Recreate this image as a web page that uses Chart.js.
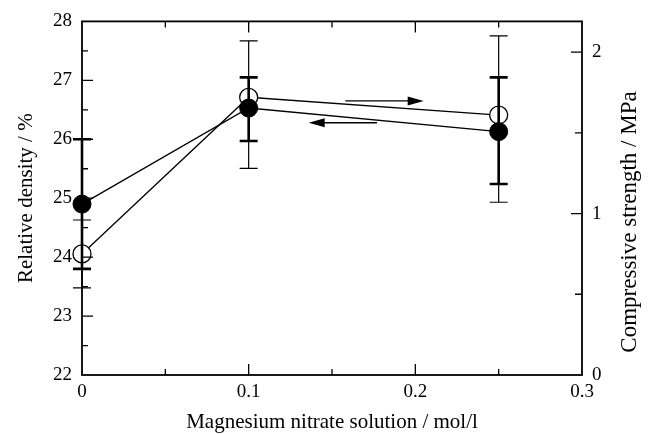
<!DOCTYPE html>
<html>
<head>
<meta charset="utf-8">
<script src="https://cdn.jsdelivr.net/npm/chart.js@4"></script>
<style>
    html, body { margin: 0; padding: 0; background: #fff; }
    #box { width: 658px; height: 434px; }
</style>
</head>
<body>
<div id="box"><canvas id="grafico" width="658" height="434"></canvas></div>
<script>
// Magnesium nitrate concentration (mol/l)
const concentration = [0, 0.1, 0.25];

// relative density (%), left axis - filled circles
const densityMean = [24.9, 26.53, 26.13];
const densityHigh = [26.0, 27.05, 27.05];
const densityLow = [23.8, 25.97, 25.24];

// compressive strength (MPa), right axis - open circles
const strengthMean = [0.75, 1.72, 1.61];
const strengthHigh = [0.96, 2.07, 2.10];
const strengthLow = [0.54, 1.28, 1.07];

const xTicks = [0, 0.1, 0.2, 0.3];
const densityTicks = [22, 23, 24, 25, 26, 27, 28];
const strengthTicks = [0, 1, 2];

const serif = "'Liberation Serif', 'DejaVu Serif', serif";
const rightTitle = 'Compressive strength / MPa';

function toPoints(xs, ys) {
    return xs.map((x, i) => ({ x: x, y: ys[i] }));
}

// frame, inward ticks, error bars, arrows and the right title
const extras = {
    id: 'extras',
    afterDatasetsDraw(chart) {
        const ctx = chart.ctx;
        const area = chart.chartArea;
        const sx = chart.scales.x;
        const sl = chart.scales.yDensity;
        const sr = chart.scales.yStrength;
        ctx.save();
        ctx.strokeStyle = '#000';
        ctx.fillStyle = '#000';

        // error bars
        function bars(lo, hi, axis, width) {
            ctx.lineWidth = width;
            ctx.beginPath();
            for (let i = 0; i < concentration.length; i++) {
                const px = sx.getPixelForValue(concentration[i]);
                const top = axis.getPixelForValue(hi[i]);
                const bot = axis.getPixelForValue(lo[i]);
                ctx.moveTo(px, top); ctx.lineTo(px, bot);
                ctx.moveTo(px - 9, top); ctx.lineTo(px + 9, top);
                ctx.moveTo(px - 9, bot); ctx.lineTo(px + 9, bot);
            }
            ctx.stroke();
        }
        bars(strengthLow, strengthHigh, sr, 1.2);
        bars(densityLow, densityHigh, sl, 2.6);

        // frame
        ctx.lineWidth = 1.8;
        ctx.strokeRect(area.left, area.top, area.right - area.left, area.bottom - area.top);

        // ticks pointing inward
        ctx.lineWidth = 1.3;
        ctx.beginPath();
        for (let v = 0.05; v < 0.3; v += 0.05) {
            const px = sx.getPixelForValue(v);
            const len = Math.abs(v * 10 - Math.round(v * 10)) < 0.01 ? 11 : 6;
            ctx.moveTo(px, area.bottom); ctx.lineTo(px, area.bottom - len);
            ctx.moveTo(px, area.top); ctx.lineTo(px, area.top + len);
        }
        for (let v = 22.5; v < 28; v += 0.5) {
            const py = sl.getPixelForValue(v);
            const len = Number.isInteger(v) ? 11 : 6;
            ctx.moveTo(area.left, py); ctx.lineTo(area.left + len, py);
        }
        for (let v = 0.5; v < sr.max; v += 0.5) {
            const py = sr.getPixelForValue(v);
            const len = Number.isInteger(v) ? 11 : 7;
            ctx.moveTo(area.right, py); ctx.lineTo(area.right - len, py);
        }
        ctx.stroke();

        // arrows: open circles -> right axis, filled circles -> left axis
        function arrow(x1, x2, y) {
            const a = sx.getPixelForValue(x1);
            const b = sx.getPixelForValue(x2);
            const py = sl.getPixelForValue(y);
            const dir = Math.sign(b - a);
            ctx.lineWidth = 1.3;
            ctx.beginPath();
            ctx.moveTo(a, py); ctx.lineTo(b - dir * 10, py);
            ctx.stroke();
            ctx.beginPath();
            ctx.moveTo(b, py);
            ctx.lineTo(b - dir * 16, py - 4.5);
            ctx.lineTo(b - dir * 16, py + 4.5);
            ctx.closePath();
            ctx.fill();
        }
        arrow(0.158, 0.205, 26.65);
        arrow(0.177, 0.136, 26.28);

        // right axis title, reading upward like the left one
        ctx.translate(630, 222);
        ctx.rotate(-Math.PI / 2);
        ctx.font = '23px ' + serif;
        ctx.textAlign = 'center';
        ctx.textBaseline = 'middle';
        ctx.fillText(rightTitle, 0, 0);

        ctx.restore();
    }
};

const ctx = document.getElementById('grafico').getContext('2d');
new Chart(ctx, {
    type: 'scatter',
    data: {
        datasets: [
            {
                label: 'Relative density',
                data: toPoints(concentration, densityMean),
                yAxisID: 'yDensity',
                showLine: true,
                clip: false,
                borderColor: '#000',
                borderWidth: 1.3,
                pointRadius: 9,
                pointBackgroundColor: '#000',
                pointBorderColor: '#000',
                pointBorderWidth: 1
            },
            {
                label: 'Compressive strength',
                data: toPoints(concentration, strengthMean),
                yAxisID: 'yStrength',
                showLine: true,
                clip: false,
                borderColor: '#000',
                borderWidth: 1.3,
                pointRadius: 9,
                pointBackgroundColor: '#fff',
                pointBorderColor: '#000',
                pointBorderWidth: 1.3
            }
        ]
    },
    options: {
        responsive: false,
        animation: false,
        layout: { padding: { top: 20, left: 0, right: 0, bottom: 0 } },
        plugins: { legend: { display: false }, tooltip: { enabled: false } },
        scales: {
            x: {
                type: 'linear',
                min: 0,
                max: 0.3,
                afterFit: (s) => { s.height = 59; },
                afterBuildTicks: (s) => { s.ticks = xTicks.map(v => ({ value: v })); },
                grid: { display: false, drawTicks: false },
                border: { display: false },
                ticks: {
                    color: '#000',
                    padding: 6,
                    font: { family: serif, size: 19 },
                    callback: (v) => v === 0 ? '0' : v.toFixed(1)
                },
                title: {
                    display: true,
                    text: 'Magnesium nitrate solution / mol/l',
                    color: '#000',
                    font: { family: serif, size: 21 },
                    padding: { top: 0, bottom: -1 }
                }
            },
            yDensity: {
                position: 'left',
                min: 22,
                max: 28,
                afterFit: (s) => { s.width = 82; },
                afterBuildTicks: (s) => { s.ticks = densityTicks.map(v => ({ value: v })); },
                grid: { display: false, drawTicks: false },
                border: { display: false },
                ticks: {
                    color: '#000',
                    padding: 10,
                    font: { family: serif, size: 19 }
                },
                title: {
                    display: true,
                    text: 'Relative density / %',
                    color: '#000',
                    font: { family: serif, size: 21 },
                    padding: { top: 14, bottom: 0 }
                }
            },
            yStrength: {
                position: 'right',
                min: 0,
                max: 2.19,
                afterFit: (s) => { s.width = 76; },
                afterBuildTicks: (s) => { s.ticks = strengthTicks.map(v => ({ value: v })); },
                grid: { display: false, drawTicks: false },
                border: { display: false },
                ticks: {
                    color: '#000',
                    padding: 10,
                    font: { family: serif, size: 19 }
                }
            }
        }
    },
    plugins: [extras]
});
</script>
</body>
</html>
